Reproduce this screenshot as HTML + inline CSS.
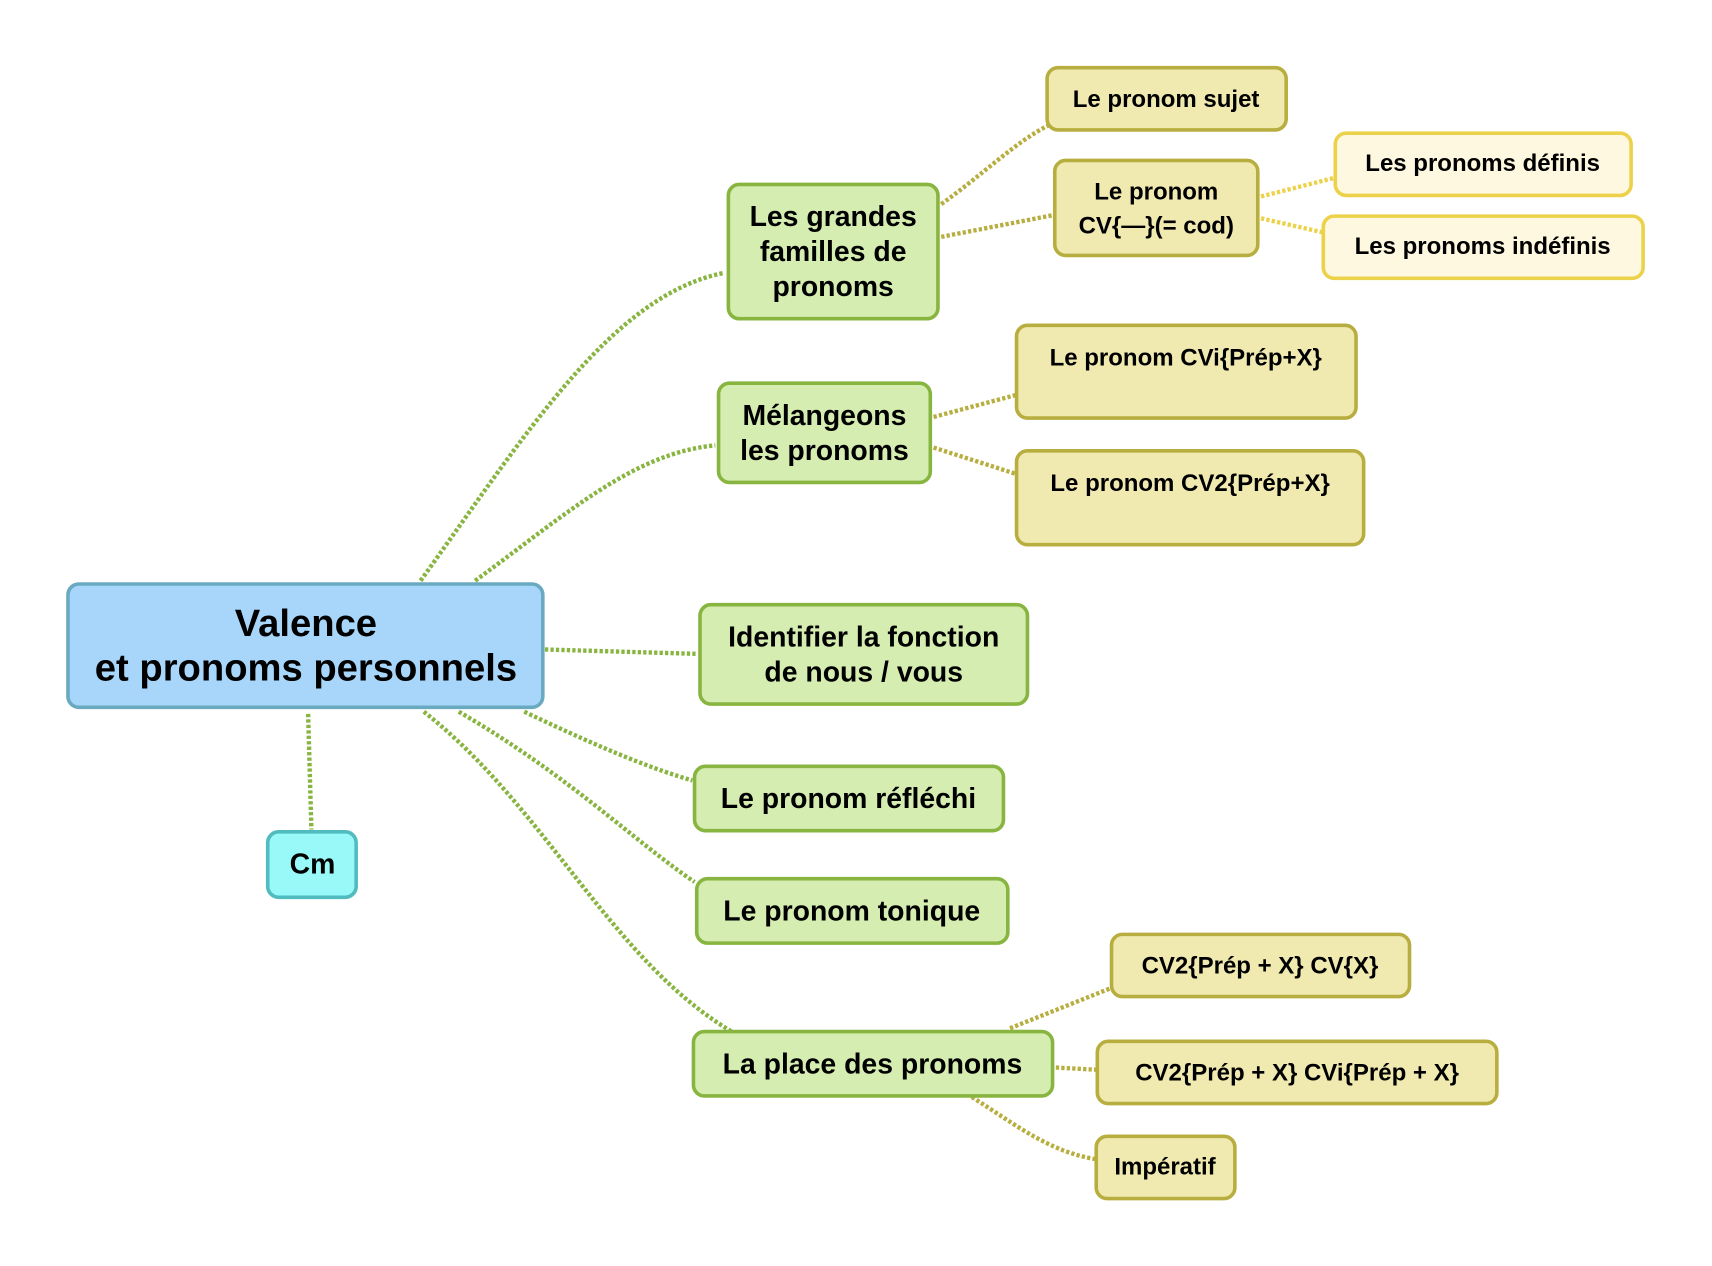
<!DOCTYPE html>
<html><head><meta charset="utf-8"><style>
html,body{margin:0;padding:0;background:#fff}
svg{display:block}
text{font-family:"Liberation Sans",Arial,sans-serif;font-weight:bold;fill:#000;text-anchor:middle;dominant-baseline:central}
</style></head><body>
<svg width="1712" height="1266" viewBox="0 0 1560 1154" xmlns="http://www.w3.org/2000/svg">
<g transform="scale(0.995)">
<g fill="none" stroke-width="4" stroke-dasharray="3 2">
<g stroke="#88b440">
<path d="M385,532 C480,400 560,270 663,250"/>
<path d="M435,532 C520,470 580,415 655,408"/>
<path d="M499,595 L638,599"/>
<path d="M480,652 C560,690 600,705 634,715"/>
<path d="M420,652 C520,710 580,770 636,808"/>
<path d="M388,652 C500,740 560,880 670,945"/>
<path d="M282,654 L285,760"/>
</g>
<g stroke="#b8ae40">
<path d="M862,187 C900,160 930,130 960,115"/>
<path d="M862,217 L965,197"/>
<path d="M855,382 L930,362"/>
<path d="M855,410 L930,434"/>
<path d="M925,942 L1018,905"/>
<path d="M967,978 L1004,980"/>
<path d="M890,1005 C930,1030 960,1055 1004,1062"/>
</g>
<g stroke="#ecd24a">
<path d="M1155,180 L1222,163"/>
<path d="M1155,200 L1212,213"/>
</g>
</g>
<g stroke-width="3.3">
<rect x="62" y="535" width="435" height="113" rx="10" fill="#a7d6fa" stroke="#6aaac0"/>
<rect x="245" y="762" width="81" height="60" rx="10" fill="#99f8f8" stroke="#50bcc0"/>
<g fill="#d5edb0" stroke="#88b440">
<rect x="667" y="169" width="192" height="123" rx="10"/>
<rect x="658" y="351" width="194" height="91" rx="10"/>
<rect x="641" y="554" width="300" height="91" rx="10"/>
<rect x="636" y="702" width="283" height="59" rx="10"/>
<rect x="638" y="805" width="285" height="59" rx="10"/>
<rect x="635" y="945" width="329" height="59" rx="10"/>
</g>
<g fill="#f0eab0" stroke="#b8ae40">
<rect x="959" y="62" width="219" height="57" rx="10"/>
<rect x="966" y="147" width="186" height="87" rx="10"/>
<rect x="931" y="298" width="311" height="85" rx="10"/>
<rect x="931" y="413" width="318" height="86" rx="10"/>
<rect x="1018" y="856" width="273" height="57" rx="10"/>
<rect x="1005" y="954" width="366" height="57" rx="10"/>
<rect x="1004" y="1041" width="127" height="57" rx="10"/>
</g>
<g fill="#fef8e0" stroke="#ecd24a">
<rect x="1223" y="122" width="271" height="57" rx="10"/>
<rect x="1212" y="198" width="293" height="57" rx="10"/>
</g>
</g>
<g font-size="35">
<text x="280" y="571">Valence</text>
<text x="280" y="612">et pronoms personnels</text>
</g>
<g font-size="26">
<text x="286" y="792">Cm</text>
<text x="763" y="199">Les grandes</text>
<text x="763" y="231">familles de</text>
<text x="763" y="263">pronoms</text>
<text x="755" y="381">Mélangeons</text>
<text x="755" y="413">les pronoms</text>
<text x="791" y="584">Identifier la fonction</text>
<text x="791" y="616">de nous / vous</text>
<text x="777" y="732">Le pronom réfléchi</text>
<text x="780" y="835">Le pronom tonique</text>
<text x="799" y="975">La place des pronoms</text>
</g>
<g font-size="22">
<text x="1068" y="91">Le pronom sujet</text>
<text x="1059" y="176">Le pronom</text>
<text x="1059" y="207">CV{—}(= cod)</text>
<text x="1086" y="328">Le pronom CVi{Prép+X}</text>
<text x="1090" y="443">Le pronom CV2{Prép+X}</text>
<text x="1154" y="885">CV2{Prép + X} CV{X}</text>
<text x="1188" y="983">CV2{Prép + X} CVi{Prép + X}</text>
<text x="1067" y="1069">Impératif</text>
<text x="1358" y="150">Les pronoms définis</text>
<text x="1358" y="226">Les pronoms indéfinis</text>
</g>
</g>
</svg>
</body></html>
